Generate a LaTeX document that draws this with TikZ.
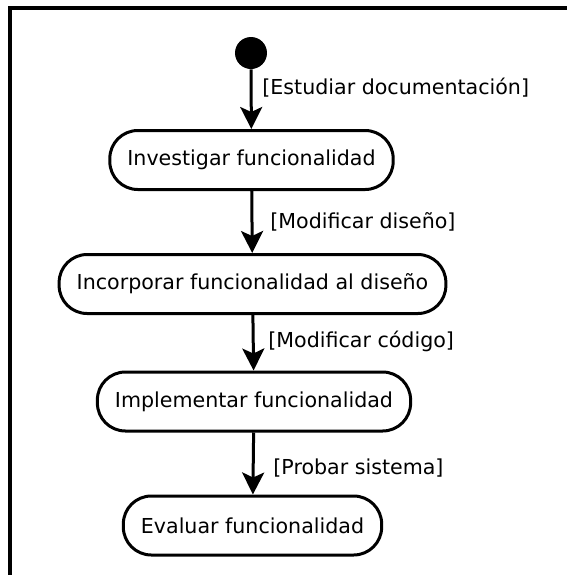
\documentclass[tikz,border=0pt]{standalone}
\usepackage{fontspec}
\setmainfont{DejaVu Sans}
\usepackage{tikz}
\usetikzlibrary{arrows.meta}

\begin{document}
\begin{tikzpicture}[
		x=0.5pt, y=-0.5pt,
		every node/.style={font=\fontsize{10.3}{12}\selectfont},
		activity/.style={rectangle, draw, line width=1.5pt, rounded corners=14pt, minimum height=29.5pt, inner xsep=8.8pt, fill=white},
		initial/.style={circle, fill=black, minimum size=16pt, inner sep=0pt},
		guard/.style={anchor=west, inner sep=0pt},
		arrow/.style={-{Stealth[length=11pt, width=11pt, inset=2.5pt]}, line width=1.5pt}
	]
		\useasboundingbox (0,0) rectangle (567,575);
		% Frame
		\draw[line width=1.7pt] (567,8) -- (10,8) -- (10,575);
		
		% Activities
		\node[initial] (start) at (251,53) {};
		\node[activity] (inv) at (251.5,160) {Investigar funcionalidad\hspace{5pt}};
		\node[activity] (inc) at (252.5,284) {Incorporar funcionalidad al diseño\hspace{5pt}};
		\node[activity] (imp) at (254,401.5) {Implementar funcionalidad\hspace{5pt}};
		\node[activity] (eva) at (252.5,525.5) {Evaluar funcionalidad\hspace{5pt}};
		
		% Arrows
		\draw[arrow] (start) -- (inv);
		\draw[arrow] (inv) -- (inc);
		\draw[arrow] (inc) -- (imp);
		\draw[arrow] (imp) -- (eva);
		
		% Guards
		\node[guard] (g1) at (262,88) {[Estudiar documentación]};
		\node[guard] (g2) at (270,222) {[Modificar diseño]};
		\node[guard] (g3) at (268,341) {[Modificar código]};
		\node[guard] (g4) at (273,468) {[Probar sistema]};
	\end{tikzpicture}
\end{document}
